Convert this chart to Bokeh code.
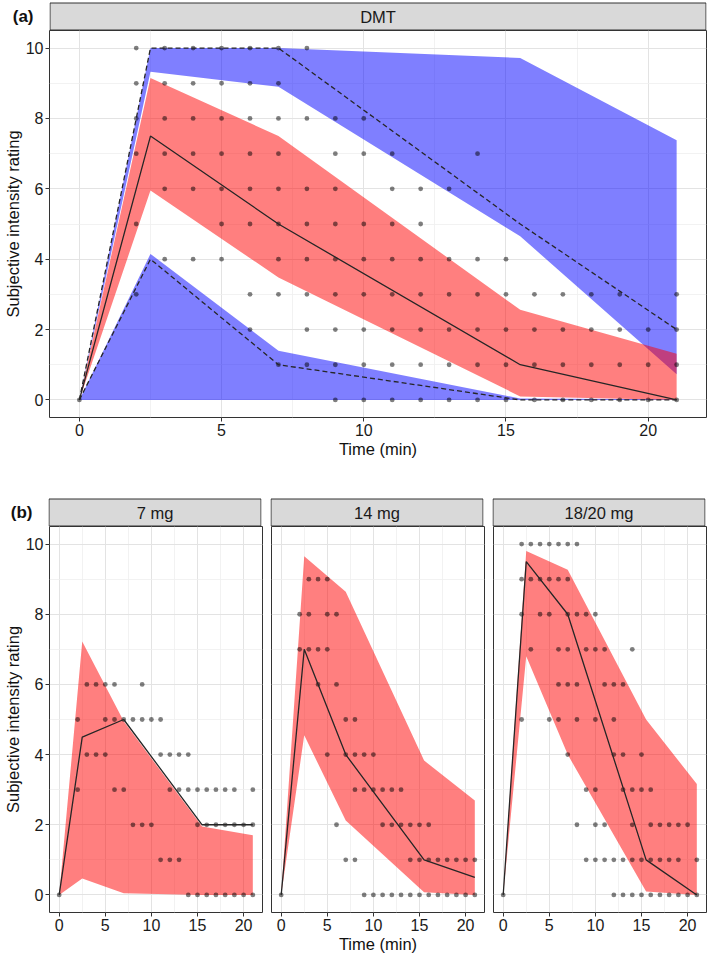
from bokeh.plotting import figure
from bokeh.models import FixedTicker, Range1d
from bokeh.core.properties import value
from bokeh.layouts import column, row
from bokeh.embed import file_html
from bokeh.resources import INLINE

# ---------------- data ----------------
bin_time = [0, 2.5, 7, 15.5, 21]
x_ticks = [0, 5, 10, 15, 20]
x_minor = [2.5, 7.5, 12.5, 17.5]
y_ticks = [0, 2, 4, 6, 8, 10]
y_minor = [1, 3, 5, 7, 9]

# panel (a) DMT
a_median = [0, 7.5, 5.0, 1.0, 0.0]
a_p05 = [0, 4.0, 1.0, 0.0, 0.0]
a_p95 = [0, 10.0, 10.0, 5.0, 2.0]
a_med_lo = [0, 5.95, 3.48, 0.1, 0.0]
a_med_hi = [0, 9.15, 7.5, 2.56, 1.31]
a_p05_lo = [0, 0.0, 0.0, 0.0, 0.0]
a_p05_hi = [0, 4.15, 1.4, 0.04, 0.02]
a_p95_lo = [0, 9.33, 8.9, 4.65, 0.73]
a_p95_hi = [0, 10.0, 10.0, 9.72, 7.38]
a_obs = {
    10: [2, 3, 4, 5, 6, 7, 8],
    9: [2, 3, 4, 5, 6, 7],
    8: [2, 3, 4, 5, 6, 7, 8, 9, 10],
    7: [2, 3, 4, 5, 6, 7, 9, 10, 11, 14],
    6: [3, 4, 5, 6, 7, 8, 9, 11, 12, 13],
    5: [2, 5, 6, 7, 8, 9, 10, 11, 12],
    4: [3, 4, 5, 7, 8, 9, 10, 11, 12, 13, 14, 15],
    3: [2, 6, 7, 8, 9, 10, 11, 12, 13, 14, 15, 16, 17, 18, 19, 21],
    2: [6, 8, 9, 10, 11, 12, 13, 14, 15, 16, 17, 18, 19, 20, 21],
    1: [7, 8, 9, 10, 11, 12, 13, 14, 15, 16, 17, 18, 19, 20, 21],
    0: [0, 9, 10, 11, 12, 13, 14, 15, 16, 17, 18, 19, 20, 21],
}

# panel (b) by dose
doses = ["7 mg", "14 mg", "18/20 mg"]
b_median = {
    "7 mg": [0, 4.5, 5.0, 2.0, 2.0],
    "14 mg": [0, 7.0, 4.0, 1.0, 0.5],
    "18/20 mg": [0, 9.5, 8.0, 1.0, 0.0],
}
b_med_lo = {
    "7 mg": [0, 0.47, 0.05, 0.0, 0.0],
    "14 mg": [0, 4.55, 2.12, 0.08, 0.0],
    "18/20 mg": [0, 6.8, 4.0, 0.1, 0.0],
}
b_med_hi = {
    "7 mg": [0, 7.22, 4.95, 1.95, 1.7],
    "14 mg": [0, 9.65, 8.64, 3.83, 2.69],
    "18/20 mg": [0, 9.8, 9.27, 5.0, 3.16],
}
b_obs = {
    "7 mg": {
        6: [3, 4, 5, 6, 9],
        5: [2, 5, 6, 7, 8, 9, 10, 11],
        4: [3, 4, 5, 11, 12, 13, 14],
        3: [2, 6, 7, 12, 13, 14, 15, 16, 17, 18, 19, 21],
        2: [8, 9, 10, 15, 16, 17, 18, 19, 20, 21],
        1: [11, 12, 13],
        0: [0, 14, 15, 16, 17, 18, 19, 20, 21],
    },
    "14 mg": {
        9: [3, 4, 5],
        8: [2, 3, 5, 6],
        7: [2, 3, 4, 5],
        6: [4, 6],
        5: [7, 8],
        4: [5, 7, 8, 9, 10],
        3: [8, 9, 10, 11, 12, 13],
        2: [6, 11, 12, 13, 14, 15, 16],
        1: [7, 8, 14, 15, 16, 17, 18, 19, 20, 21],
        0: [0, 9, 10, 11, 12, 13, 14, 15, 16, 17, 18, 19, 20, 21],
    },
    "18/20 mg": {
        10: [2, 3, 4, 5, 6, 7, 8],
        9: [2, 3, 4, 5, 6, 7],
        8: [2, 4, 5, 7, 8, 9, 10],
        7: [3, 6, 7, 9, 10, 11, 14],
        6: [6, 7, 8, 11, 12, 13],
        5: [2, 5, 6, 8, 10, 12],
        4: [7, 12, 13, 15],
        3: [9, 10, 13, 14, 15, 16],
        2: [8, 10, 11, 14, 16, 17, 18, 19, 20],
        1: [9, 10, 11, 12, 13, 14, 15, 16, 17, 18, 19, 21],
        0: [0, 12, 13, 14, 15, 16, 17, 18, 19, 20, 21],
    },
}

FONT = "Liberation Sans"

# ---------------- layout constants (pixels) ----------------
TOTAL_W = 708
MBL = 48          # left border holding the y axis
MBR_LAST = 3
GAP = 9           # space between facet panels
STRIP_H = 30      # strip figure height (2px white + 28px strip)
FH_A = 387
BOT_A = 79
FWB = 213
FH_B = 386
BOT_B = 46
FWA = TOTAL_W - MBL - MBR_LAST


def flatten(obs):
    xs, ys = [], []
    for rating, times in obs.items():
        for t in times:
            xs.append(t)
            ys.append(rating)
    return xs, ys


def make_fig(frame_w, frame_h, mbl, mbr, mbb, show_y, xlabel):
    p = figure(frame_width=frame_w, frame_height=frame_h,
               x_range=(-1.05, 22.05), y_range=(-0.5, 10.5),
               output_backend="svg", toolbar_location=None, title=None,
               min_border_left=mbl, min_border_right=mbr,
               min_border_top=0, min_border_bottom=mbb,
               y_axis_location="left" if show_y else None)
    p.outline_line_color = "#333333"
    p.outline_line_width = 1
    p.background_fill_color = "white"
    p.border_fill_color = "white"
    xt = FixedTicker(ticks=x_ticks, minor_ticks=x_minor)
    yt = FixedTicker(ticks=y_ticks, minor_ticks=y_minor)
    p.xaxis.ticker = xt
    p.xgrid.ticker = xt
    p.ygrid.ticker = yt
    for g in (p.xgrid, p.ygrid):
        g.grid_line_color = "#e3e3e3"
        g.grid_line_width = 1
        g.minor_grid_line_color = "#efefef"
        g.minor_grid_line_width = 0.8
    axes = [p.xaxis[0]]
    if show_y:
        p.yaxis.ticker = yt
        p.yaxis.axis_label = "Subjective intensity rating"
        axes.append(p.yaxis[0])
    p.xaxis.axis_label = xlabel
    for ax in axes:
        ax.axis_line_color = None
        ax.major_tick_line_color = "#333333"
        ax.major_tick_in = 0
        ax.major_tick_out = 4
        ax.minor_tick_line_color = None
        ax.major_label_text_font = FONT
        ax.major_label_text_font_size = "16px"
        ax.major_label_text_color = "#1a1a1a"
        ax.major_label_standoff = 2
        ax.axis_label_text_font = FONT
        ax.axis_label_text_font_size = "16.5px"
        ax.axis_label_text_font_style = "normal"
        ax.axis_label_text_color = "#111111"
        ax.axis_label_standoff = 1
    return p


def add_points(p, obs):
    xs, ys = flatten(obs)
    p.scatter(xs, ys, size=4.8, fill_color="black", fill_alpha=0.5,
              line_color=None)


def strip_fig(label, frame_w, mbl, mbr, tag=None):
    """Facet strip: a pixel-unit canvas with the same borders as its panel."""
    s = figure(frame_width=frame_w, frame_height=STRIP_H,
               x_range=Range1d(0, frame_w), y_range=Range1d(STRIP_H, 0),
               output_backend="svg", toolbar_location=None, title=None,
               min_border_left=mbl, min_border_right=mbr, min_border_top=0,
               min_border_bottom=0, x_axis_location=None,
               y_axis_location="left" if tag is not None else None)
    s.grid.visible = False
    s.outline_line_color = None
    s.background_fill_color = "white"
    s.border_fill_color = "white"
    s.quad(left=[0.5], right=[frame_w - 0.5], top=[2.5], bottom=[STRIP_H - 0.5],
           fill_color="#d9d9d9", line_color="#333333", line_width=1)
    s.text(x=[frame_w / 2], y=[16.5], text=[label],
           text_align="center", text_baseline="middle",
           text_font=value(FONT), text_font_size="16.5px", text_color="#1a1a1a")
    if tag is not None:
        # the panel tag sits in the left border, written as the strip's only "tick"
        ax = s.yaxis[0]
        ax.ticker = FixedTicker(ticks=[16], minor_ticks=[])
        ax.major_label_overrides = {16: tag}
        ax.axis_line_color = None
        ax.major_tick_line_color = None
        ax.minor_tick_line_color = None
        ax.major_tick_in = 0
        ax.major_tick_out = 0
        ax.major_label_standoff = 16
        ax.major_label_text_font = FONT
        ax.major_label_text_font_size = "17px"
        ax.major_label_text_font_style = "bold"
        ax.major_label_text_color = "#111111"
    return s


# ---------------- panel (a) ----------------
pa = make_fig(FWA, FH_A, MBL, MBR_LAST, BOT_A, True, "Time (min)")
pa.varea(x=bin_time, y1=a_p95_lo, y2=a_p95_hi, fill_color="#0000ff", fill_alpha=0.5)
pa.varea(x=bin_time, y1=a_p05_lo, y2=a_p05_hi, fill_color="#0000ff", fill_alpha=0.5)
pa.varea(x=bin_time, y1=a_med_lo, y2=a_med_hi, fill_color="#ff0000", fill_alpha=0.5)
add_points(pa, a_obs)
pa.line(bin_time, a_median, line_color="#262626", line_width=1.3)
pa.line(bin_time, a_p05, line_color="#262626", line_width=1.3, line_dash="5 3")
pa.line(bin_time, a_p95, line_color="#262626", line_width=1.3, line_dash="5 3")

strip_a = strip_fig("DMT", FWA, MBL, MBR_LAST, tag="(a)")

# ---------------- panel (b) ----------------
figs = []
strips_b = []
for i, d in enumerate(doses):
    first = i == 0
    last = i == len(doses) - 1
    mbl = MBL if first else GAP - 1
    mbr = MBR_LAST if last else 1
    p = make_fig(FWB, FH_B, mbl, mbr, BOT_B, first,
                 "Time (min)" if i == 1 else "")
    if i != 1:
        p.xaxis.axis_label = None
    p.varea(x=bin_time, y1=b_med_lo[d], y2=b_med_hi[d], fill_color="#ff0000", fill_alpha=0.5)
    add_points(p, b_obs[d])
    p.line(bin_time, b_median[d], line_color="#262626", line_width=1.3)
    figs.append(p)
    strips_b.append(strip_fig(d, FWB, mbl, mbr, tag="(b)" if first else None))

layout = column(strip_a, pa, row(*strips_b), row(*figs))

open("out.html", "w").write(file_html(layout, INLINE))
